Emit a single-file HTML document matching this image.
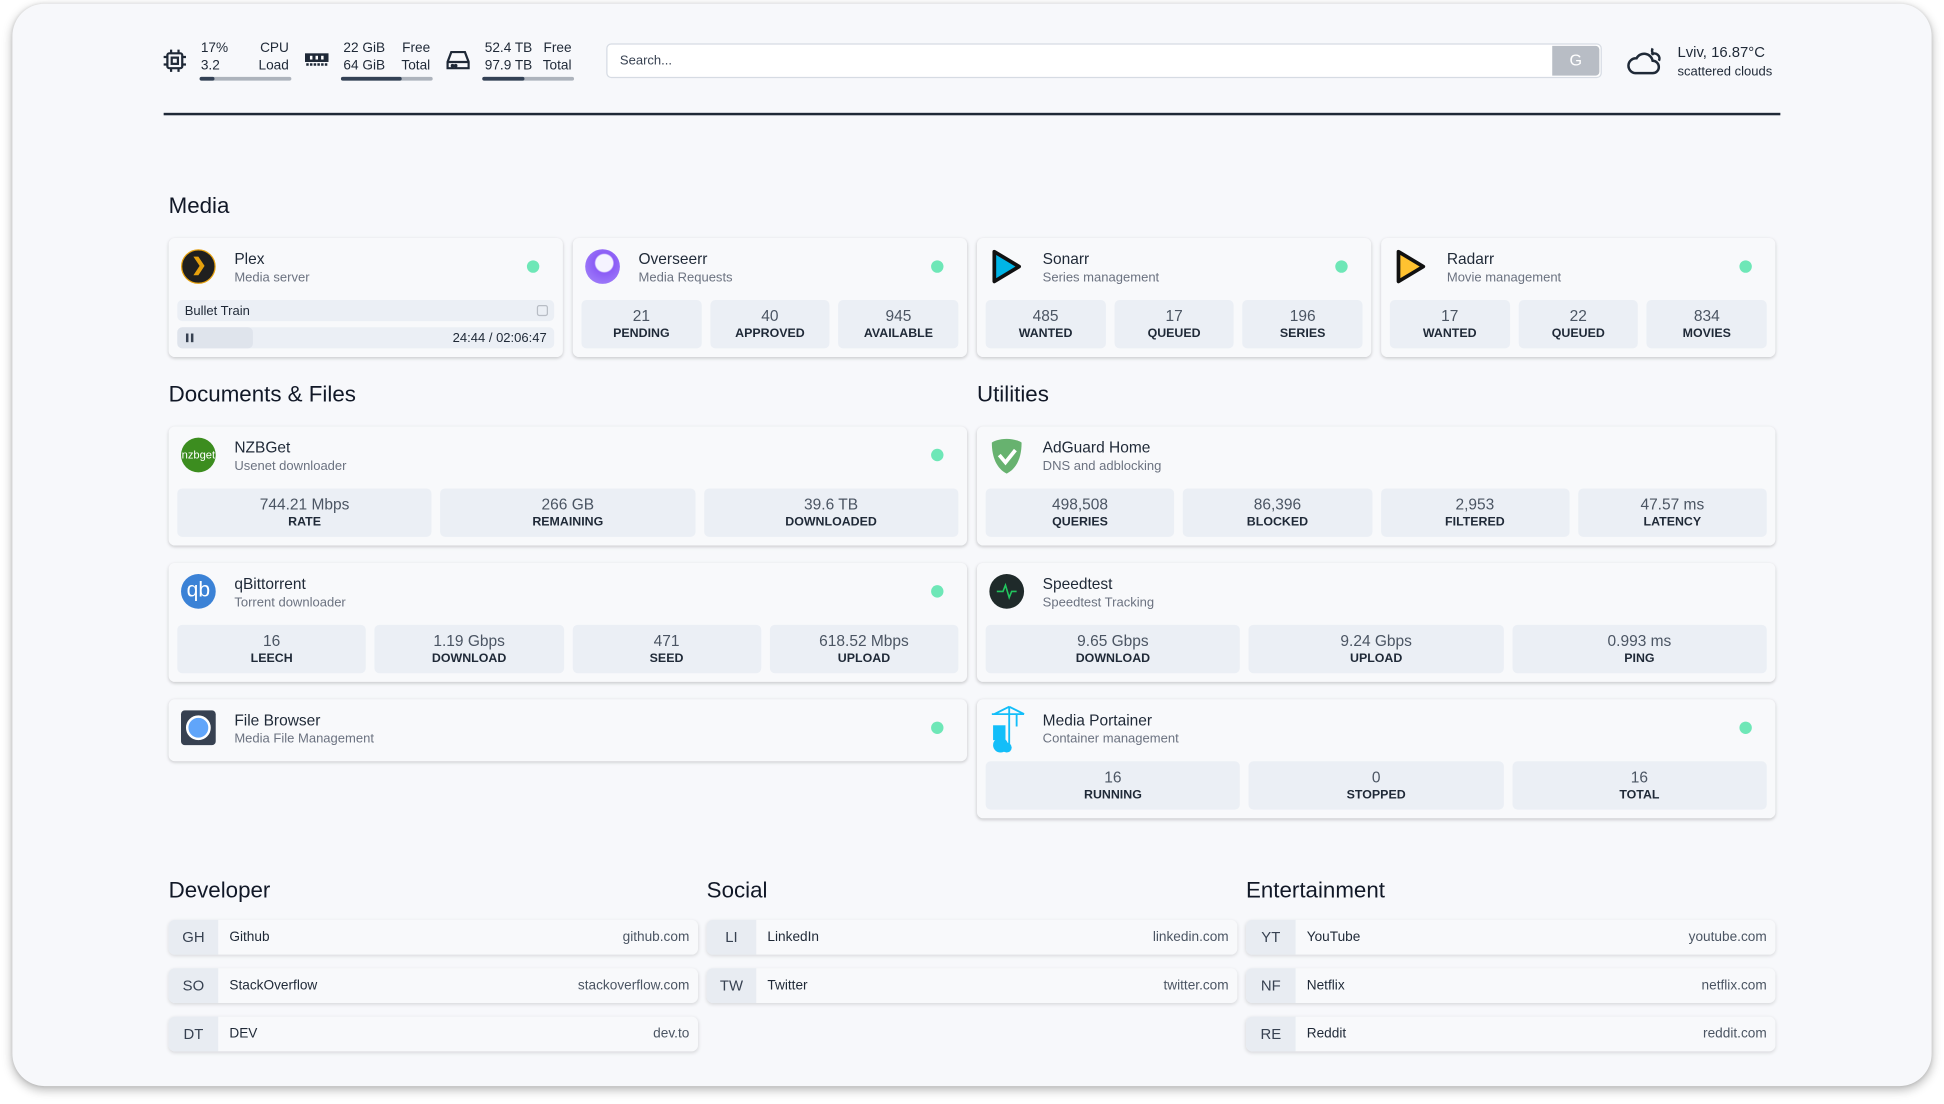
<!DOCTYPE html>
<html><head><meta charset="utf-8"><style>
*{box-sizing:border-box;margin:0;padding:0}
html,body{width:1944px;height:1104px;overflow:hidden;background:#fff;font-family:"Liberation Sans",sans-serif;color:#1f2937}
#w{position:absolute;left:0;top:0;width:1568px;height:890px;transform:scale(1.2398);transform-origin:0 0}
.outer{position:absolute;left:10px;top:3px;width:1548px;height:873px;background:#f7f8fb;border-radius:26px;box-shadow:0 3px 8px rgba(0,0,0,.28),0 0 3px rgba(0,0,0,.1)}
.a{position:absolute}
.t{font-size:11px;line-height:13px;color:#1f2937;white-space:nowrap}
.bar{position:absolute;height:3px;background:#adb3bc;border-radius:2px}
.bar i{display:block;height:3px;background:#334155;border-radius:2px}
h2{position:absolute;font-size:18px;font-weight:normal;color:#111827}
.card{position:absolute;background:#f8f9fb;border-radius:5px;box-shadow:0 1px 3px rgba(0,0,0,.13),0 1px 2px rgba(0,0,0,.06)}
.ttl{position:absolute;left:53px;top:10px;font-size:12.5px;color:#1f2937;white-space:nowrap}
.sub{position:absolute;left:53px;top:26px;font-size:10.5px;color:#6b7280;white-space:nowrap}
.dot{position:absolute;width:10px;height:10px;border-radius:50%;background:#6ee7b7;top:18px}
.ico{position:absolute;left:10px;top:9px;width:28px;height:28px;border-radius:50%}
.stats{position:absolute;left:7px;right:7px;display:flex;gap:7px}
.st{flex:1;background:#ebeff5;border-radius:4px;height:39px;text-align:center}
.st b{display:block;font-weight:normal;font-size:12.5px;color:#4b5563;padding-top:5px;line-height:16px}
.st span{display:block;font-weight:bold;font-size:10px;color:#1f2937;line-height:14px}
.lk{position:absolute;height:28px;background:#f8f9fb;border-radius:5px;box-shadow:0 1px 3px rgba(0,0,0,.13);font-size:11px}
.lk .ab{position:absolute;left:0;top:0;width:40px;height:28px;background:#e8ecf2;border-radius:5px 0 0 5px;text-align:center;line-height:29px;font-size:12px;color:#374151}
.lk .n{position:absolute;left:49px;top:0;line-height:29px;color:#1f2937}
.lk .u{position:absolute;right:7px;top:0;line-height:29px;color:#4b5563}
</style></head><body><div id="w">
<div class="outer"></div>

<!-- top bar -->
<svg class="a" style="left:131px;top:39px" width="20" height="20" viewBox="0 0 20 20" fill="none" stroke="#1f2937" stroke-width="1.8"><rect x="4" y="4" width="12" height="12" rx="1.5"/><rect x="7.5" y="7.5" width="5" height="5"/><path d="M7 1v3M13 1v3M7 16v3M13 16v3M1 7h3M1 13h3M16 7h3M16 13h3"/></svg>
<div class="a t" style="left:162px;top:33px">17%</div><div class="a t" style="left:162px;top:47px">3.2</div>
<div class="a t" style="left:200px;top:33px;width:33px;text-align:right">CPU</div><div class="a t" style="left:200px;top:47px;width:33px;text-align:right">Load</div>
<div class="bar" style="left:161px;top:62px;width:74px"><i style="width:12px"></i></div>
<svg class="a" style="left:246px;top:42px" width="19" height="12" viewBox="0 0 19 12"><rect x="0" y="1" width="19" height="7" fill="#1f2937"/><rect x="4" y="3" width="2" height="3" fill="#fff"/><rect x="8.5" y="3" width="2" height="3" fill="#fff"/><rect x="13" y="3" width="2" height="3" fill="#fff"/><path d="M1 10h17" stroke="#1f2937" stroke-width="2" stroke-dasharray="2 1"/></svg>
<div class="a t" style="left:277px;top:33px">22 GiB</div><div class="a t" style="left:277px;top:47px">64 GiB</div>
<div class="a t" style="left:310px;top:33px;width:37px;text-align:right">Free</div><div class="a t" style="left:310px;top:47px;width:37px;text-align:right">Total</div>
<div class="bar" style="left:275px;top:62px;width:74px"><i style="width:49px"></i></div>
<svg class="a" style="left:360px;top:40px" width="19" height="17" viewBox="0 0 19 17" fill="none" stroke="#1f2937" stroke-width="1.8"><path d="M4 2h11l3 8v5H1v-5z"/><path d="M1 10h17"/><circle cx="5" cy="13" r=".6" fill="#1f2937"/><circle cx="7.5" cy="13" r=".6" fill="#1f2937"/></svg>
<div class="a t" style="left:391px;top:33px">52.4 TB</div><div class="a t" style="left:391px;top:47px">97.9 TB</div>
<div class="a t" style="left:425px;top:33px;width:36px;text-align:right">Free</div><div class="a t" style="left:425px;top:47px;width:36px;text-align:right">Total</div>
<div class="bar" style="left:389px;top:62px;width:74px"><i style="width:34px"></i></div>
<div class="a" style="left:489px;top:35px;width:803px;height:28px;background:#fff;border:1.5px solid #d6dbe3;border-radius:4px"></div>
<div class="a t" style="left:500px;top:43px;font-size:10.5px;color:#374151">Search...</div>
<div class="a" style="left:1252px;top:37px;width:38px;height:24px;background:#b8bdc5;border-radius:0 3px 3px 0;color:#fff;font-size:13px;text-align:center;line-height:24px">G</div>
<svg class="a" style="left:1311px;top:36px" width="30" height="26" viewBox="0 0 30 26" fill="none" stroke="#1f2937" stroke-width="2"><path d="M8 23h14a5 5 0 0 0 0-10 7 7 0 0 0-13-2 6 6 0 0 0-1 12z"/><path d="M21 8a4 4 0 0 1 6 5"/><path d="M22 3a4 4 0 0 0 1 5"/></svg>
<div class="a t" style="left:1353px;top:36px;font-size:12px">Lviv, 16.87°C</div>
<div class="a t" style="left:1353px;top:52px;font-size:10.5px">scattered clouds</div>
<div class="a" style="left:132px;top:91px;width:1304px;height:2px;background:#1f2937"></div>

<h2 style="left:136px;top:156px">Media</h2>
<!-- Plex -->
<div class="card" style="left:136px;top:192px;width:318px;height:96px">
 <div class="ico" style="background:#1f1f1f;border:1.5px solid #e5a00d"><svg width="25" height="25" viewBox="0 0 25 25"><path d="M9 5h4l5 7.5-5 7.5H9l5-7.5z" fill="#e5a00d"/></svg></div>
 <div class="ttl">Plex</div><div class="sub">Media server</div><div class="dot" style="left:289px"></div>
 <div class="a" style="left:7px;top:50px;width:304px;height:17px;background:#ebeff5;border-radius:4px"><div class="a t" style="left:6px;top:3px;font-size:10.5px">Bullet Train</div><div class="a" style="right:5px;top:4px;width:9px;height:9px;border:1.5px solid #b8bdc5;border-radius:2px"></div></div>
 <div class="a" style="left:7px;top:72px;width:304px;height:17px;background:#ebeff5;border-radius:4px"><div class="a" style="left:0;top:0;width:61px;height:17px;background:#dfe4ec;border-radius:4px"></div><div class="a" style="left:7px;top:5px;width:2px;height:7px;background:#374151"></div><div class="a" style="left:11px;top:5px;width:2px;height:7px;background:#374151"></div><div class="a t" style="right:6px;top:3px;font-size:10.5px">24:44 / 02:06:47</div></div>
</div>
<!-- Overseerr -->
<div class="card" style="left:462px;top:192px;width:318px;height:96px">
 <div class="ico" style="background:radial-gradient(circle at 55% 40%,#f5f3ff 0 30%,#8b5cf6 35%,#a78bfa 100%)"></div>
 <div class="ttl">Overseerr</div><div class="sub">Media Requests</div><div class="dot" style="left:289px"></div>
 <div class="stats" style="top:50px"><div class="st"><b>21</b><span>PENDING</span></div><div class="st"><b>40</b><span>APPROVED</span></div><div class="st"><b>945</b><span>AVAILABLE</span></div></div>
</div>
<!-- Sonarr -->
<div class="card" style="left:788px;top:192px;width:318px;height:96px">
 <svg class="a" style="left:10px;top:8px" width="28" height="30" viewBox="0 0 28 30"><path d="M4 3l20 12-20 12z" fill="#00b4e6" stroke="#111" stroke-width="3" stroke-linejoin="round"/></svg>
 <div class="ttl">Sonarr</div><div class="sub">Series management</div><div class="dot" style="left:289px"></div>
 <div class="stats" style="top:50px"><div class="st"><b>485</b><span>WANTED</span></div><div class="st"><b>17</b><span>QUEUED</span></div><div class="st"><b>196</b><span>SERIES</span></div></div>
</div>
<!-- Radarr -->
<div class="card" style="left:1114px;top:192px;width:318px;height:96px">
 <svg class="a" style="left:10px;top:8px" width="28" height="30" viewBox="0 0 28 30"><path d="M4 3l20 12-20 12z" fill="#ffc230" stroke="#111" stroke-width="3" stroke-linejoin="round"/></svg>
 <div class="ttl">Radarr</div><div class="sub">Movie management</div><div class="dot" style="left:289px"></div>
 <div class="stats" style="top:50px"><div class="st"><b>17</b><span>WANTED</span></div><div class="st"><b>22</b><span>QUEUED</span></div><div class="st"><b>834</b><span>MOVIES</span></div></div>
</div>

<h2 style="left:136px;top:308px">Documents &amp; Files</h2>
<h2 style="left:788px;top:308px">Utilities</h2>
<!-- NZBGet -->
<div class="card" style="left:136px;top:344px;width:644px;height:96px">
 <div class="ico" style="background:#3c8d1f;color:#fff;font-size:9px;text-align:center;line-height:28px">nzbget</div>
 <div class="ttl">NZBGet</div><div class="sub">Usenet downloader</div><div class="dot" style="left:615px"></div>
 <div class="stats" style="top:50px"><div class="st"><b>744.21 Mbps</b><span>RATE</span></div><div class="st"><b>266 GB</b><span>REMAINING</span></div><div class="st"><b>39.6 TB</b><span>DOWNLOADED</span></div></div>
</div>
<!-- qBittorrent -->
<div class="card" style="left:136px;top:454px;width:644px;height:96px">
 <div class="ico" style="background:#3b82d6;color:#fff;font-size:17px;text-align:center;line-height:26px">qb</div>
 <div class="ttl">qBittorrent</div><div class="sub">Torrent downloader</div><div class="dot" style="left:615px"></div>
 <div class="stats" style="top:50px"><div class="st"><b>16</b><span>LEECH</span></div><div class="st"><b>1.19 Gbps</b><span>DOWNLOAD</span></div><div class="st"><b>471</b><span>SEED</span></div><div class="st"><b>618.52 Mbps</b><span>UPLOAD</span></div></div>
</div>
<!-- File Browser -->
<div class="card" style="left:136px;top:564px;width:644px;height:50px">
 <div class="ico" style="border-radius:3px;background:#374151"><div style="margin:4px;width:20px;height:20px;border-radius:50%;background:#60a5fa;border:2px solid #fff"></div></div>
 <div class="ttl">File Browser</div><div class="sub">Media File Management</div><div class="dot" style="left:615px"></div>
</div>
<!-- AdGuard -->
<div class="card" style="left:788px;top:344px;width:644px;height:96px">
 <svg class="a" style="left:10px;top:9px" width="28" height="30" viewBox="0 0 28 30"><path d="M14 1C8 1 3 3 2 4c0 12 4 21 12 25 8-4 12-13 12-25-1-1-6-3-12-3z" fill="#67b26f"/><path d="M8 14l5 6 8-10" stroke="#fff" stroke-width="3" fill="none"/></svg>
 <div class="ttl">AdGuard Home</div><div class="sub">DNS and adblocking</div>
 <div class="stats" style="top:50px"><div class="st"><b>498,508</b><span>QUERIES</span></div><div class="st"><b>86,396</b><span>BLOCKED</span></div><div class="st"><b>2,953</b><span>FILTERED</span></div><div class="st"><b>47.57 ms</b><span>LATENCY</span></div></div>
</div>
<!-- Speedtest -->
<div class="card" style="left:788px;top:454px;width:644px;height:96px">
 <div class="ico" style="background:#1f2a2a"><svg width="28" height="28" viewBox="0 0 28 28"><path d="M6 14h5l2-5 3 10 2-5h4" stroke="#22c55e" stroke-width="1.3" fill="none"/></svg></div>
 <div class="ttl">Speedtest</div><div class="sub">Speedtest Tracking</div>
 <div class="stats" style="top:50px"><div class="st"><b>9.65 Gbps</b><span>DOWNLOAD</span></div><div class="st"><b>9.24 Gbps</b><span>UPLOAD</span></div><div class="st"><b>0.993 ms</b><span>PING</span></div></div>
</div>
<!-- Portainer -->
<div class="card" style="left:788px;top:564px;width:644px;height:96px">
 <svg class="a" style="left:10px;top:4px" width="30" height="40" viewBox="0 0 30 40"><path d="M2 8h26M16 2v30M16 2L4 8M16 2l12 6M22 8v10" stroke="#13bef9" stroke-width="1.5" fill="none"/><rect x="3" y="17" width="10" height="12" fill="#13bef9"/><circle cx="9" cy="33" r="6" fill="#13bef9"/><circle cx="14" cy="35" r="4" fill="#13bef9"/></svg>
 <div class="ttl">Media Portainer</div><div class="sub">Container management</div><div class="dot" style="left:615px"></div>
 <div class="stats" style="top:50px"><div class="st"><b>16</b><span>RUNNING</span></div><div class="st"><b>0</b><span>STOPPED</span></div><div class="st"><b>16</b><span>TOTAL</span></div></div>
</div>

<h2 style="left:136px;top:708px">Developer</h2>
<h2 style="left:570px;top:708px">Social</h2>
<h2 style="left:1005px;top:708px">Entertainment</h2>
<div class="lk" style="left:136px;top:742px;width:427px"><div class="ab">GH</div><div class="n">Github</div><div class="u">github.com</div></div>
<div class="lk" style="left:136px;top:781px;width:427px"><div class="ab">SO</div><div class="n">StackOverflow</div><div class="u">stackoverflow.com</div></div>
<div class="lk" style="left:136px;top:820px;width:427px"><div class="ab">DT</div><div class="n">DEV</div><div class="u">dev.to</div></div>
<div class="lk" style="left:570px;top:742px;width:428px"><div class="ab">LI</div><div class="n">LinkedIn</div><div class="u">linkedin.com</div></div>
<div class="lk" style="left:570px;top:781px;width:428px"><div class="ab">TW</div><div class="n">Twitter</div><div class="u">twitter.com</div></div>
<div class="lk" style="left:1005px;top:742px;width:427px"><div class="ab">YT</div><div class="n">YouTube</div><div class="u">youtube.com</div></div>
<div class="lk" style="left:1005px;top:781px;width:427px"><div class="ab">NF</div><div class="n">Netflix</div><div class="u">netflix.com</div></div>
<div class="lk" style="left:1005px;top:820px;width:427px"><div class="ab">RE</div><div class="n">Reddit</div><div class="u">reddit.com</div></div>
</div></body></html>
